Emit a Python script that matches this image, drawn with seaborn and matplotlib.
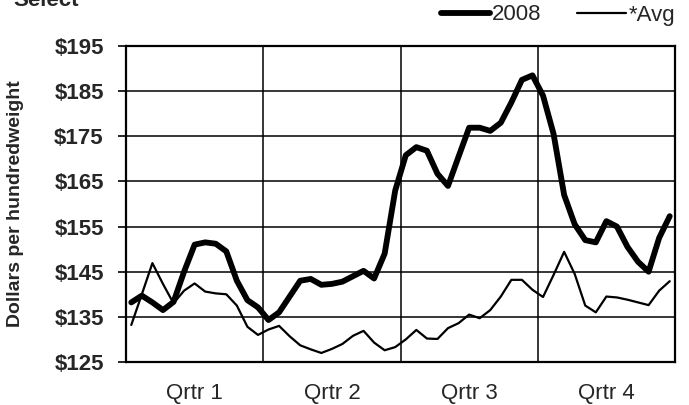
import numpy as np
import matplotlib
matplotlib.use("Agg")
import matplotlib.pyplot as plt
import seaborn as sns

# weekly prices, dollars per hundredweight
weeks = np.arange(52)
price_2008 = [138.2, 139.7, 138.2, 136.5, 138.3, 145.0, 151.0, 151.5, 151.2, 149.5,
              143.0, 138.7, 137.1, 134.3, 136.0, 139.5, 143.0, 143.4, 142.1, 142.3,
              142.8, 144.0, 145.2, 143.5, 149.0, 163.0, 170.8, 172.6, 171.8, 166.7,
              164.0, 170.5, 176.9, 176.9, 176.2, 178.0, 182.5, 187.5, 188.5, 184.0,
              175.5, 162.0, 155.5, 152.0, 151.5, 156.2, 155.0, 150.5, 147.2, 145.0,
              152.5, 157.3]
price_avg = [133.2, 140.0, 146.9, 142.3, 138.0, 140.8, 142.4, 140.6, 140.2, 140.0,
             137.5, 132.8, 131.0, 132.2, 133.0, 130.7, 128.7, 127.8, 127.0, 127.9,
             129.0, 130.8, 131.9, 129.3, 127.6, 128.3, 130.0, 132.1, 130.2, 130.1,
             132.5, 133.6, 135.5, 134.7, 136.5, 139.5, 143.2, 143.2, 141.0, 139.4,
             144.3, 149.4, 144.5, 137.5, 136.0, 139.5, 139.3, 138.8, 138.2, 137.6,
             140.8, 142.9]

quarter_labels = ["Qrtr 1", "Qrtr 2", "Qrtr 3", "Qrtr 4"]
quarter_centers = [6, 19, 32, 45]
quarter_edges = [12.5, 25.5, 38.5]
y_ticks = np.arange(125, 196, 10)

sns.set_style("white")
plt.rcParams["font.family"] = ["Liberation Sans", "DejaVu Sans"]

fig = plt.figure(figsize=(6.89, 4.05), dpi=100)
ax = fig.add_axes([126 / 689, 1 - 362 / 405, 549 / 689, 316 / 405])

sns.lineplot(x=weeks, y=price_2008, ax=ax, color="black", linewidth=4.2,
             label="2008", solid_joinstyle="round", solid_capstyle="round")
sns.lineplot(x=weeks, y=price_avg, ax=ax, color="black", linewidth=1.6,
             label="*Avg", solid_joinstyle="round")

ax.set_xlim(-0.5, 51.5)
ax.set_ylim(125, 195)

# grid
for v in y_ticks[1:-1]:
    ax.axhline(v, color="black", linewidth=1.1, zorder=0)
for e in quarter_edges:
    ax.axvline(e, color="black", linewidth=1.1, zorder=0)

for s in ax.spines.values():
    s.set_color("black")
    s.set_linewidth(1.6)

ax.set_yticks(y_ticks)
ax.set_yticklabels([f"${v}" for v in y_ticks], fontsize=16, fontweight="bold")
ax.tick_params(axis="y", length=6, width=1.2, color="black", pad=10, left=True)
ax.set_xticks(quarter_centers)
ax.set_xticklabels(quarter_labels, fontsize=16)
ax.tick_params(axis="x", length=0, pad=15)
ax.set_xlabel("")
ax.set_ylabel("Dollars per hundredweight", fontsize=14, fontweight="bold")
ax.yaxis.set_label_coords(-(126 - 24) / 549, 0.5)

leg = ax.legend(loc="center right", bbox_to_anchor=(675 / 689, 1 - 15 / 405),
                bbox_transform=fig.transFigure, ncol=2, frameon=False, fontsize=16,
                handlelength=2.2, handletextpad=0.1, columnspacing=1.6,
                borderpad=0, borderaxespad=0)

fig.text(13 / 689, 1 - 6 / 405, "Select", fontsize=16, fontweight="bold",
         ha="left", va="baseline")

fig.savefig("out.png", dpi=100)
